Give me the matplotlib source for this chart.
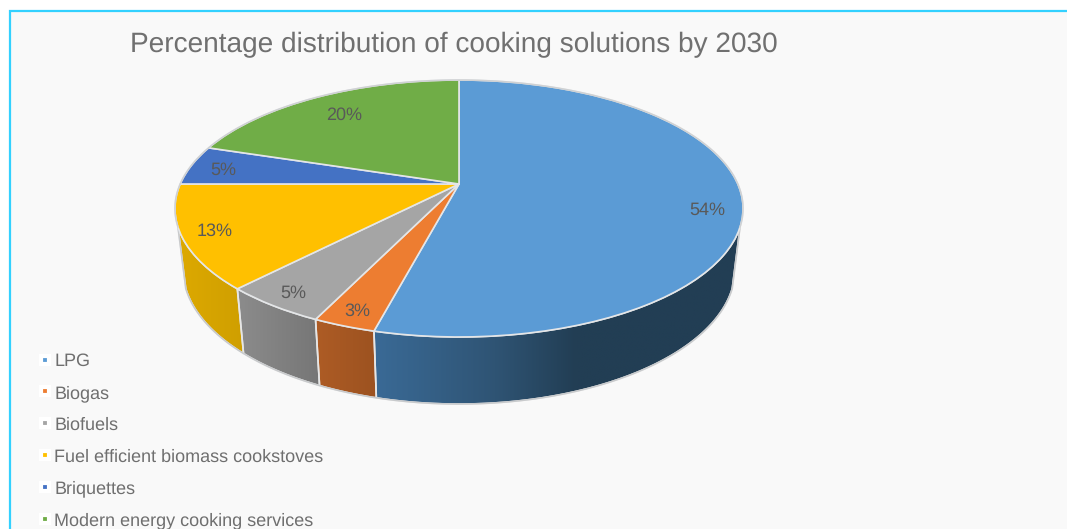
import numpy as np
import matplotlib
matplotlib.use("Agg")
import matplotlib.pyplot as plt
from matplotlib.colors import LinearSegmentedColormap
from matplotlib.lines import Line2D
from matplotlib.patches import Polygon, Rectangle
from matplotlib.transforms import Transform

plt.rcParams["font.family"] = ["Liberation Sans", "DejaVu Sans"]
plt.rcParams["text.hinting"] = "no_hinting"
plt.rcParams["text.hinting_factor"] = 1

# Chart data
title = "Percentage distribution of cooking solutions by 2030"
categories = ["LPG", "Biogas", "Biofuels", "Fuel efficient biomass cookstoves",
              "Briquettes", "Modern energy cooking services"]
shares = [54, 3, 5, 13, 5, 20]

# Styling per slice
top_colors = ["#5B9BD5", "#ED7D31", "#A5A5A5", "#FFC000", "#4472C4", "#70AD47"]
wall_stops = [[(0.0, "#3A6A96"), (0.33, "#2F5474"), (0.55, "#223E54"), (1.0, "#223E54")],
              [(0.0, "#AE5C25"), (1.0, "#9C5220")],
              [(0.0, "#8C8C8C"), (1.0, "#767676")],
              [(0.0, "#DDA900"), (1.0, "#CF9F00")],
              [(0.0, "#2F5597"), (1.0, "#2F5597")],
              [(0.0, "#4E7A32"), (1.0, "#4E7A32")]]
label_radius = [0.88, 0.905, 0.905, 0.89, 0.88, 0.785]
label_nudge_y = [12, 1, 1, 0, 3, 1]  # pixels, downward

# Camera of the tilted disc, in figure pixels
CX, CY = 459.0, 184.0
SCALE_X, SCALE_Y, TILT = 278.8, 123.8, 0.1907
FLOOR_X, FLOOR_Y, FLOOR_CY = 271.0, 130.0, 243.4
VISIBLE = (109.0, 251.0)  # clockwise degrees from 12 o'clock where the rim faces us


class DiscProjection(Transform):
    """Perspective view of a horizontal unit disc."""
    input_dims = output_dims = 2

    def __init__(self, sx, sy, cx, cy, tilt):
        super().__init__()
        self.p = (sx, sy, cx, cy, tilt)

    def transform_non_affine(self, values):
        sx, sy, cx, cy, tilt = self.p
        values = np.asarray(values, dtype=float)
        w = 1 + tilt * values[:, 1]
        return np.column_stack((cx + sx * values[:, 0] / w, cy - sy * values[:, 1] / w))


top_disc = DiscProjection(SCALE_X, SCALE_Y, CX, CY, TILT)
floor_disc = DiscProjection(FLOOR_X, FLOOR_Y, CX, FLOOR_CY, TILT)


def rim(theta_deg):
    t = np.radians(theta_deg)
    return np.column_stack((np.sin(t), np.cos(t)))


fig = plt.figure(figsize=(10.67, 5.29), dpi=100, facecolor="white")
ax = fig.add_axes([0, 0, 1, 1])

wedges, _ = ax.pie(shares, startangle=90, counterclock=False, radius=1.0,
                   colors=top_colors, frame=True,
                   wedgeprops=dict(edgecolor="#E4E6E8", linewidth=1.2, zorder=5))
ax.set_aspect("auto")
ax.set_xlim(0, 1067)
ax.set_ylim(529, 0)
ax.axis("off")

ax.add_patch(Rectangle((9.5, 10.5), 1100, 560, facecolor="#F9F9F9", edgecolor="#33D1FF",
                       linewidth=1.6, zorder=0))

for w in wedges:
    w.set_transform(top_disc + ax.transData)
    w.set_clip_on(False)

# Outer wall of the cylinder, one shaded band per slice
edges = np.cumsum([0] + shares) / sum(shares) * 360.0
for i in range(len(shares)):
    a, b = max(edges[i], VISIBLE[0]), min(edges[i + 1], VISIBLE[1])
    if a >= b:
        continue
    th = np.linspace(a, b, 60)
    upper = top_disc.transform(rim(th))
    lower = floor_disc.transform(rim(th))
    verts = np.vstack((upper, lower[::-1]))
    ax.add_patch(Polygon(verts, closed=True, facecolor="none", edgecolor="#E6E6E6",
                         linewidth=1.2, zorder=3))
    cmap = LinearSegmentedColormap.from_list(f"wall{i}", wall_stops[i])
    x0, x1 = verts[:, 0].min(), verts[:, 0].max()
    grad = ax.imshow(np.linspace(0, 1, 256)[None, :], extent=(x0, x1, 450, 200), cmap=cmap,
                     aspect="auto", zorder=2, interpolation="bilinear")
    grad.set_clip_path(Polygon(verts, closed=True, transform=ax.transData))

ax.set_xlim(0, 1067)
ax.set_ylim(529, 0)

# Thin grey rim around the whole solid
floor_edge = floor_disc.transform(rim(np.linspace(VISIBLE[0], VISIBLE[1], 200)))
ax.plot(floor_edge[:, 0], floor_edge[:, 1], color="#C8CACC", lw=1.1, zorder=4)
for th in VISIBLE:
    seg = np.vstack((top_disc.transform(rim(np.array([th]))),
                     floor_disc.transform(rim(np.array([th])))))
    ax.plot(seg[:, 0], seg[:, 1], color="#C8CACC", lw=1.1, zorder=4)
far_edge = top_disc.transform(rim(np.linspace(VISIBLE[1], VISIBLE[0] + 360, 300)))
ax.plot(far_edge[:, 0], far_edge[:, 1], color="#CFD1D3", lw=1.1, zorder=6)

# Percent labels sit near the rim of each slice
mid = (edges[:-1] + edges[1:]) / 2
for m, r, dy, v in zip(mid, label_radius, label_nudge_y, shares):
    anchor = top_disc.transform(r * rim(np.array([m])))[0]
    ax.annotate(f"{v}%", xy=anchor, xytext=(0, -dy * 0.72), textcoords="offset points",
                ha="center", va="center", fontsize=13, color="#595959", zorder=7)

ax.text(130, 52, title, fontsize=20.2, color="#707070", ha="left", va="baseline", zorder=7)

handles = [Line2D([], [], linestyle="none", marker="s", markersize=6,
                  markerfacecolor=c, markeredgecolor="white", markeredgewidth=3)
           for c in top_colors]
ax.legend(handles, categories, loc="upper left", bbox_to_anchor=(37, 353),
          bbox_transform=ax.transData, frameon=False, fontsize=13, labelcolor="#6F6F6F",
          handlelength=0.9, handletextpad=0.05, labelspacing=0.83, borderpad=0, borderaxespad=0)

fig.savefig("out.png", dpi=100, facecolor="white")
